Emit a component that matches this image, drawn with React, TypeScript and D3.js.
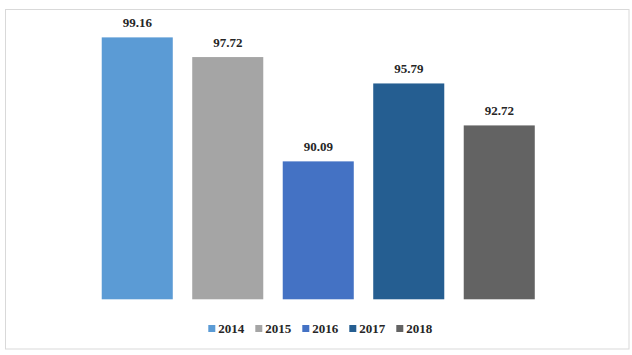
import React from "react";
import * as d3 from "d3";

const years = ["2014", "2015", "2016", "2017", "2018"];
const values = [99.16, 97.72, 90.09, 95.79, 92.72];
const colors = ["#5B9BD5", "#A5A5A5", "#4472C4", "#255E91", "#636363"];

const W = 632;
const H = 355;

export default function App() {
  const x = d3
    .scaleBand<string>()
    .domain(years)
    .range([92, 544.5])
    .paddingInner(0.215)
    .paddingOuter(0.1075);
  const y = d3.scaleLinear().domain([80, 100]).range([299.3, 25.9]);

  const textStyle: React.CSSProperties = {
    fontFamily: "Liberation Serif, serif",
    fontWeight: 700,
    fontSize: "13px",
  };
  const legendStart = 208.3;
  const legendStep = 47;

  return (
    <svg
      width={W}
      height={H}
      style={{ position: "absolute", left: 0, top: 0, background: "#fff" }}
    >
      <rect x={5.5} y={9.5} width={623.5} height={339.5} fill="#fff" stroke="#D9D9D9" strokeWidth={1} />
      {years.map((yr, i) => (
        <g key={yr}>
          <rect
            x={x(yr)}
            y={y(values[i])}
            width={x.bandwidth()}
            height={y(80) - y(values[i])}
            fill={colors[i]}
          />
          <text
            x={(x(yr) ?? 0) + x.bandwidth() / 2}
            y={y(values[i]) - 10}
            textAnchor="middle"
            style={textStyle}
            fill="#262626"
          >
            {values[i].toFixed(2)}
          </text>
        </g>
      ))}
      <g>
        {years.map((yr, i) => (
          <g key={yr} transform={`translate(${legendStart + i * legendStep},0)`}>
            <rect x={0} y={325} width={7} height={7} fill={colors[i]} />
            <text x={10} y={332.5} style={textStyle} fill="#262626">
              {yr}
            </text>
          </g>
        ))}
      </g>
    </svg>
  );
}
